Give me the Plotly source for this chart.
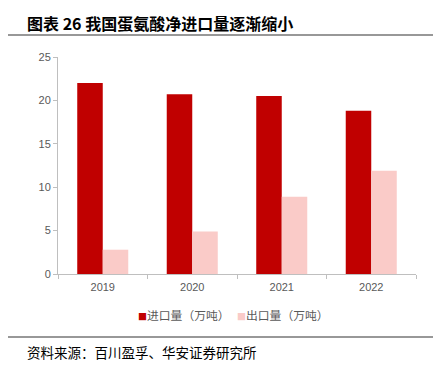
import plotly.graph_objects as go

years = ["2019", "2020", "2021", "2022"]
imports = [22.0, 20.7, 20.5, 18.8]
exports = [2.8, 4.9, 8.9, 11.9]
y_ticks = [0, 5, 10, 15, 20, 25]
series_names = ["进口量（万吨）", "出口量（万吨）"]
series_colors = ["#C00000", "#FACBC8"]
title_text = "图表 26 我国蛋氨酸净进口量逐渐缩小"
source_text = "资料来源：百川盈孚、华安证券研究所"

cjk = "Noto Sans CJK SC"

# page has an 8px body margin: plot area should land at x 58..416, y 57..274
OFF = 8
L, T, PW, PH = 58 - OFF, 57 - OFF, 358, 217
W, H = 441 - OFF, 374 - OFF


def px(x):
    return (x - OFF - L) / PW


def py(y):
    return 1 - (y - OFF - T) / PH


fig = go.Figure()
for name, vals, col in zip(series_names, [imports, exports], series_colors):
    fig.add_trace(go.Bar(x=years, y=vals, name=name, marker_color=col,
                         marker_line_width=0, showlegend=False))

annotations = [
    dict(text="<b>" + title_text + "</b>", xref="paper", yref="paper",
         x=px(25), y=py(23), xanchor="left", yanchor="middle",
         showarrow=False, font=dict(family=cjk, size=16, color="#000000")),
    dict(text=source_text, xref="paper", yref="paper",
         x=px(25), y=py(352), xanchor="left", yanchor="middle",
         showarrow=False, font=dict(family=cjk, size=13.5, color="#000000")),
]
legend_x = [136, 235]
for lx, name, col in zip(legend_x, series_names, series_colors):
    annotations.append(dict(
        text='<span style="color:%s;font-size:9px">■</span>%s' % (col, name),
        xref="paper", yref="paper", x=px(lx), y=py(314), xanchor="left",
        yanchor="middle", showarrow=False,
        font=dict(family=cjk, size=11.8, color="#595959")))

line_y1 = py(35)
line_y2 = py(337)
fig.update_layout(
    width=W, height=H,
    margin=dict(l=L, r=W - L - PW, t=T, b=H - T - PH),
    paper_bgcolor="white", plot_bgcolor="white",
    barmode="group", bargap=0.43, bargroupgap=0,
    font=dict(family="Liberation Sans, Arial", size=11, color="#595959"),
    showlegend=False,
    xaxis=dict(showline=True, linecolor="#BFBFBF", linewidth=1, ticks="outside",
               tickson="boundaries", ticklen=4, tickcolor="#BFBFBF",
               ticklabelstandoff=3,
               tickfont=dict(size=11, color="#595959"), showgrid=False),
    yaxis=dict(range=[0, 25], tickvals=y_ticks, showline=True, linecolor="#BFBFBF",
               linewidth=1, ticks="outside", ticklen=4, tickcolor="#BFBFBF",
               showgrid=False, zeroline=False,
               tickfont=dict(size=11, color="#595959")),
    shapes=[
        dict(type="line", xref="paper", yref="paper", x0=px(0), x1=px(441),
             y0=line_y1, y1=line_y1, line=dict(color="#333333", width=1.2)),
        dict(type="line", xref="paper", yref="paper", x0=px(0), x1=px(441),
             y0=line_y2, y1=line_y2, line=dict(color="#333333", width=1.2)),
    ],
    annotations=annotations,
)

fig.write_html("out.html")
